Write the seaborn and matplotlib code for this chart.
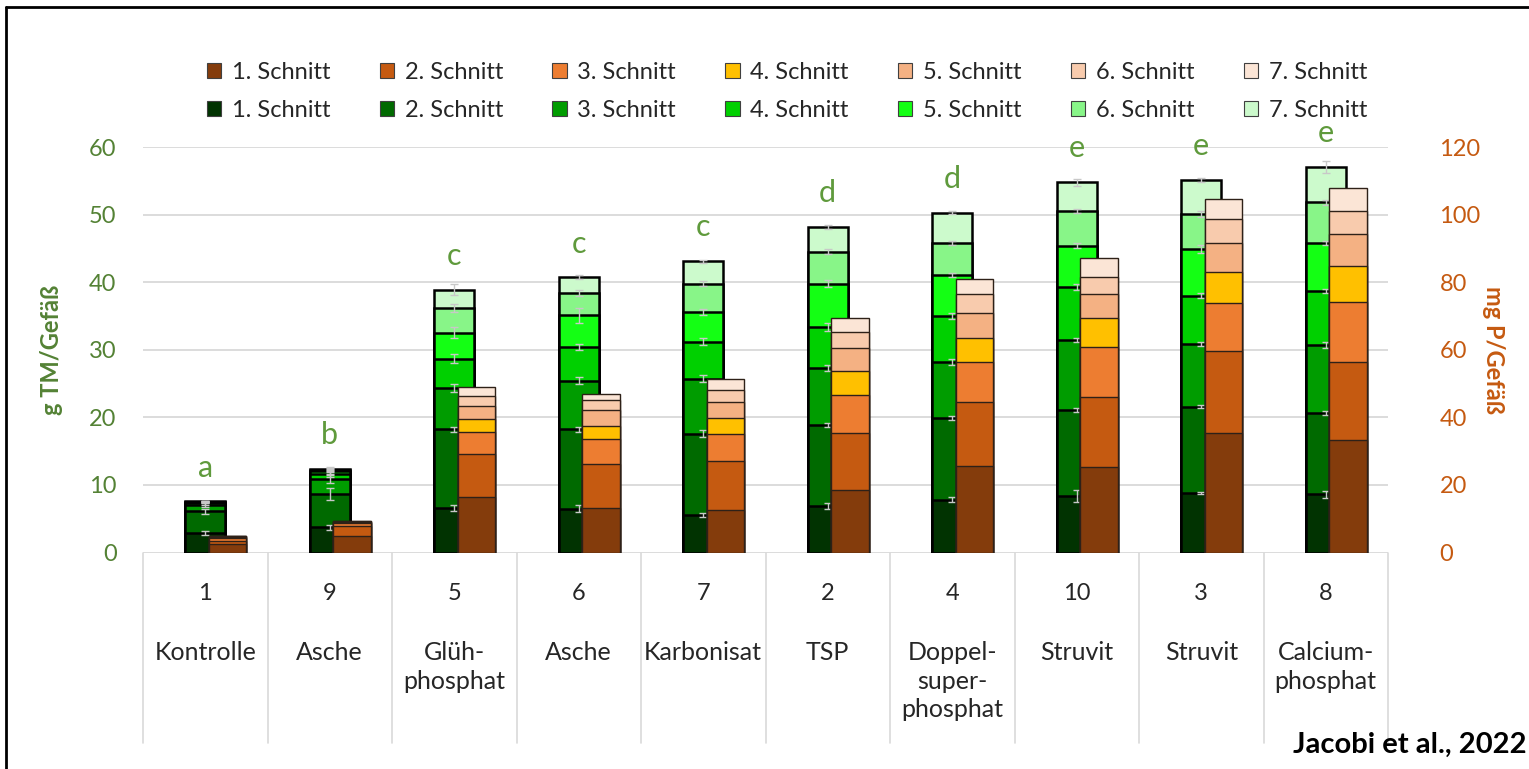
import numpy as np
import matplotlib
matplotlib.use("Agg")
import matplotlib.pyplot as plt
from matplotlib.patches import Patch
from matplotlib.lines import Line2D
import matplotlib.transforms as mtransforms
import seaborn as sns

# Varianten (Nummer und Bezeichnung)
varianten_nr = ["1", "9", "5", "6", "7", "2", "4", "10", "3", "8"]
varianten_name = ["Kontrolle", "Asche", "Glüh-\nphosphat", "Asche", "Karbonisat", "TSP",
                  "Doppel-\nsuper-\nphosphat", "Struvit", "Struvit", "Calcium-\nphosphat"]
signifikanz = ["a", "b", "c", "c", "c", "d", "d", "e", "e", "e"]
schnitte = ["1. Schnitt", "2. Schnitt", "3. Schnitt", "4. Schnitt",
            "5. Schnitt", "6. Schnitt", "7. Schnitt"]

# Trockenmasse je Schnitt (g TM/Gefäß)
tm_s1 = [2.9, 3.7, 6.6, 6.5, 5.5, 6.9, 7.8, 8.4, 8.8, 8.6]
tm_s2 = [3.2, 5.0, 11.6, 11.7, 12.1, 12.0, 12.1, 12.7, 12.8, 12.1]
tm_s3 = [0.9, 2.2, 6.1, 7.2, 8.1, 8.4, 8.3, 10.3, 9.2, 10.0]
tm_s4 = [0.3, 0.7, 4.4, 5.0, 5.5, 6.1, 6.8, 7.9, 7.2, 8.0]
tm_s5 = [0.15, 0.4, 3.8, 4.7, 4.4, 6.4, 6.1, 6.1, 6.9, 7.1]
tm_s6 = [0.05, 0.2, 3.7, 3.3, 4.2, 4.7, 4.7, 5.1, 5.2, 6.0]
tm_s7 = [0.05, 0.2, 2.7, 2.3, 3.3, 3.7, 4.5, 4.3, 5.0, 5.3]

# Standardabweichung der kumulierten Trockenmasse
tm_sd1 = [0.3, 0.4, 0.5, 0.5, 0.3, 0.4, 0.4, 0.9, 0.2, 0.5]
tm_sd2 = [0.4, 0.9, 0.4, 0.4, 0.5, 0.3, 0.3, 0.3, 0.2, 0.3]
tm_sd3 = [0.3, 0.6, 0.6, 0.5, 0.5, 0.4, 0.4, 0.3, 0.3, 0.4]
tm_sd4 = [0.2, 0.5, 0.7, 0.4, 0.5, 0.6, 0.5, 0.5, 0.4, 0.3]
tm_sd5 = [0.1, 0.4, 0.8, 1.1, 0.4, 0.5, 0.3, 0.4, 0.6, 0.3]
tm_sd6 = [0.1, 0.3, 0.6, 0.4, 0.3, 0.4, 0.3, 0.3, 0.5, 0.4]
tm_sd7 = [0.1, 0.2, 0.8, 0.3, 0.2, 0.3, 0.2, 0.5, 0.3, 0.9]

# P-Aufnahme je Schnitt (mg P/Gefäß)
p_s1 = [2.5, 4.9, 16.3, 13.3, 12.6, 18.5, 25.6, 25.2, 35.3, 33.3]
p_s2 = [1.0, 3.0, 12.8, 12.8, 14.5, 16.8, 18.8, 20.9, 24.3, 23.2]
p_s3 = [0.8, 0.7, 6.5, 7.5, 8.0, 11.3, 11.9, 14.6, 14.1, 17.5]
p_s4 = [0.3, 0.3, 3.9, 3.9, 4.8, 7.2, 7.1, 8.6, 9.2, 10.9]
p_s5 = [0.2, 0.2, 3.9, 4.7, 4.7, 6.6, 7.6, 7.2, 8.8, 9.4]
p_s6 = [0.05, 0.15, 2.9, 2.9, 3.5, 4.9, 5.5, 5.1, 7.1, 6.9]
p_s7 = [0.05, 0.15, 2.8, 1.7, 3.1, 4.2, 4.4, 5.6, 5.7, 6.6]

farben_tm = ["#013301", "#006a00", "#009c00", "#00d000", "#14ff14", "#88f588", "#ccfacc"]
farben_p = ["#843c0c", "#c55a11", "#ed7d31", "#ffc000", "#f4b183", "#f8cbad", "#fbe5d6"]

GRUEN = "#548235"
GRUEN_HELL = "#5f9a3c"
ORANGE = "#c55a11"
TEXT = "#262626"

sns.set_theme(style="white")
plt.rcParams["font.family"] = ["Lato", "DejaVu Sans"]

W, H = 1529, 769
fig = plt.figure(figsize=(W / 100, H / 100), dpi=100)
x0, x1, y0, y1 = 143, 1388, 552.5, 147
ax = fig.add_axes([x0 / W, 1 - y0 / H, (x1 - x0) / W, (y0 - y1) / H])
ax2 = ax.twinx()

n = len(varianten_nr)
pos = np.arange(n, dtype=float)

tm = np.array([tm_s1, tm_s2, tm_s3, tm_s4, tm_s5, tm_s6, tm_s7])
tm_sd = np.array([tm_sd1, tm_sd2, tm_sd3, tm_sd4, tm_sd5, tm_sd6, tm_sd7])
p = np.array([p_s1, p_s2, p_s3, p_s4, p_s5, p_s6, p_s7])
tm_cum = np.cumsum(tm, axis=0)
p_cum = np.cumsum(p, axis=0)


def gestapelt(axis, xpos, cum, farben, width, edge, lw):
    # kumulierte Balken von oben nach unten übereinanderlegen
    for k in reversed(range(cum.shape[0])):
        sns.barplot(x=xpos, y=cum[k], native_scale=True, width=width,
                    color=farben[k], saturation=1, edgecolor=edge, linewidth=lw,
                    errorbar=None, ax=axis, zorder=2 + (7 - k) * 0.01)


gestapelt(ax, pos, tm_cum, farben_tm, 0.32, "black", 1.8)
for k in range(7):
    ax.errorbar(pos, tm_cum[k], yerr=tm_sd[k], fmt="none", ecolor="#c8c8c8",
                elinewidth=1.0, capsize=3, capthick=1.0, zorder=3)

gestapelt(ax2, pos + 0.18, p_cum, farben_p, 0.30, "#2e2118", 1.0)

# Signifikanzbuchstaben
for i in range(n):
    ax.text(pos[i], tm_cum[-1][i] + 5.0, signifikanz[i], ha="center", va="center",
            fontsize=22, color=GRUEN_HELL, clip_on=False, zorder=5)

for a in (ax, ax2):
    a.set_xlim(-0.5, n - 0.5)
    a.set_xticks([])
    a.set_xlabel("")
    for s in a.spines.values():
        s.set_visible(False)

ax.set_ylim(0, 60)
ax.set_yticks(np.arange(0, 61, 10))
ax2.set_ylim(0, 120)
ax2.set_yticks(np.arange(0, 121, 20))
ax.grid(axis="y", color="#d9d9d9", linewidth=1.3)
ax.grid(axis="x", visible=False)
ax2.grid(False)
ax.set_axisbelow(True)

ax.tick_params(axis="y", length=0, pad=19, labelsize=17, labelcolor=GRUEN)
ax2.tick_params(axis="y", length=0, pad=37, labelsize=17, labelcolor=ORANGE)
ax2.yaxis.set_ticks_position("right")

ax.set_ylabel("g TM/Gefäß", fontsize=17, fontweight="bold", color=GRUEN)
ax.yaxis.set_label_coords((63 - x0) / (x1 - x0), 0.5)
ax2.set_ylabel("mg P/Gefäß", fontsize=17, fontweight="bold", color=ORANGE,
               rotation=270, va="center")
ax2.yaxis.set_label_coords((1493 - x0) / (x1 - x0), 0.5)

# zweistufige Kategorienachse
trans = mtransforms.blended_transform_factory(ax.transData, ax.transAxes)
ph = y0 - y1
for b in np.arange(-0.5, n, 1.0):
    ax.plot([b, b], [0, -(743 - y0) / ph], transform=trans, color="#d9d9d9",
            linewidth=1.2, clip_on=False, zorder=1)
for i in range(n):
    ax.text(pos[i], -(594 - y0) / ph, varianten_nr[i], transform=trans, ha="center",
            va="center", fontsize=17, color=TEXT)
    ax.text(pos[i], -(641 - y0) / ph, varianten_name[i], transform=trans, ha="center",
            va="top", fontsize=18, color=TEXT, linespacing=1.3)

# Legende: obere Zeile P, untere Zeile TM
handles = []
for k in range(7):
    handles.append(Patch(facecolor=farben_p[k], edgecolor="#404040", linewidth=0.8, label=schnitte[k]))
    handles.append(Patch(facecolor=farben_tm[k], edgecolor="#404040", linewidth=0.8, label=schnitte[k]))
fig.legend(handles=handles, ncol=7, loc="upper center", bbox_to_anchor=(787 / W, 1 - 41 / H),
           frameon=False, fontsize=17, handlelength=0.6, handleheight=0.6,
           handletextpad=0.45, columnspacing=2.1, labelspacing=0.7,
           labelcolor=TEXT)

fig.text(1527 / W, 1 - 745 / H, "Jacobi et al., 2022", ha="right", va="center",
         fontsize=21, fontweight="bold", color="black")

# Rahmen
fig.add_artist(Line2D([6 / W, 6 / W], [0, 1 - 7 / H], color="black", linewidth=2))
fig.add_artist(Line2D([6 / W, 1], [1 - 7 / H, 1 - 7 / H], color="black", linewidth=2))

fig.savefig("out.png", dpi=100)
